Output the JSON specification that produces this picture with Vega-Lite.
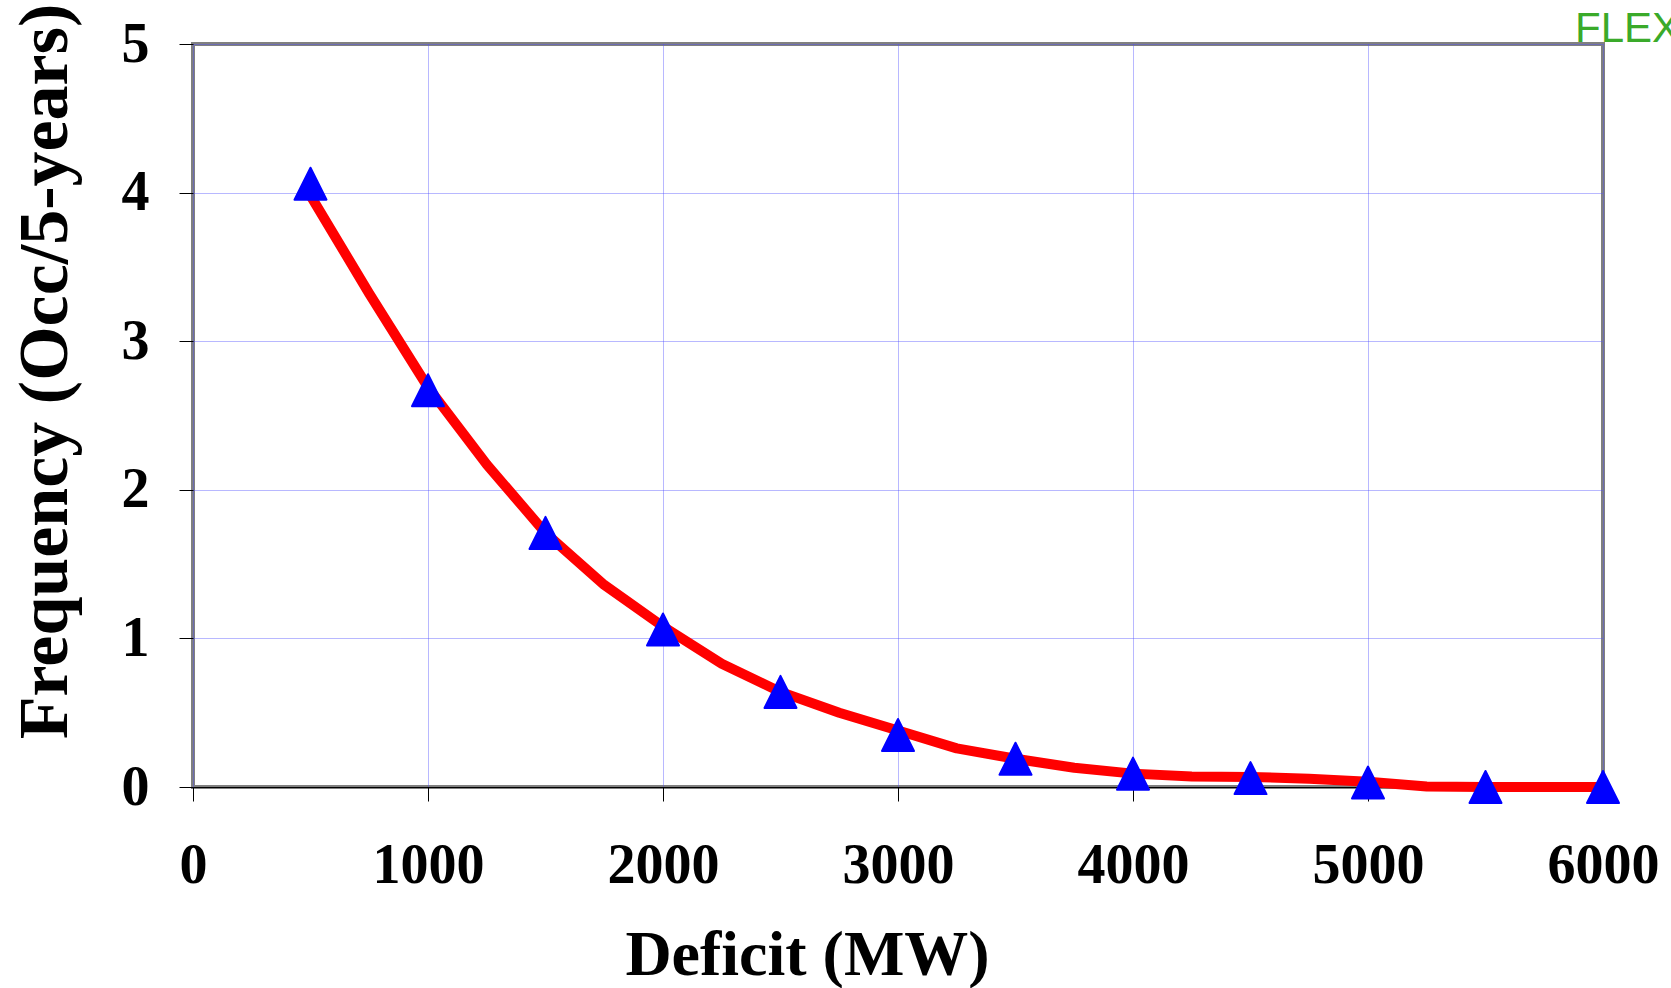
{
  "$schema": "https://vega.github.io/schema/vega-lite/v6.json",
  "width": 1410,
  "height": 743,
  "autosize": {"type": "none"},
  "padding": {"left": 193, "top": 44, "right": 68, "bottom": 201},
  "background": "white",
  "config": {
    "view": {"stroke": "#808080", "strokeWidth": 4},
    "axis": {
      "labelFont": "Liberation Serif",
      "titleFont": "Liberation Serif",
      "labelFontWeight": "bold",
      "titleFontWeight": "bold",
      "labelColor": "black",
      "titleColor": "black",
      "labelFontSize": 56,
      "tickColor": "black",
      "tickWidth": 1,
      "tickSize": 14,
      "gridColor": "#4d4dff",
      "gridWidth": 1,
      "gridDash": [1, 1],
      "gridOpacity": 0.8,
      "labelOverlap": false,
      "labelBound": false,
      "labelFlush": false
    }
  },
  "datasets": {
    "curve": [
      {"deficit": 500, "freq": 3.98},
      {"deficit": 750, "freq": 3.32},
      {"deficit": 1000, "freq": 2.69},
      {"deficit": 1250, "freq": 2.17},
      {"deficit": 1500, "freq": 1.71},
      {"deficit": 1750, "freq": 1.36},
      {"deficit": 2000, "freq": 1.08},
      {"deficit": 2250, "freq": 0.83},
      {"deficit": 2500, "freq": 0.64},
      {"deficit": 2750, "freq": 0.5},
      {"deficit": 3000, "freq": 0.38},
      {"deficit": 3250, "freq": 0.26},
      {"deficit": 3500, "freq": 0.19},
      {"deficit": 3750, "freq": 0.13},
      {"deficit": 4000, "freq": 0.09},
      {"deficit": 4250, "freq": 0.07},
      {"deficit": 4500, "freq": 0.068},
      {"deficit": 4750, "freq": 0.055},
      {"deficit": 5000, "freq": 0.035},
      {"deficit": 5250, "freq": 0.003},
      {"deficit": 5500, "freq": 0.0},
      {"deficit": 5750, "freq": 0.0},
      {"deficit": 6000, "freq": 0.0}
    ],
    "points": [
      {"deficit": 500, "freq": 4.06},
      {"deficit": 1000, "freq": 2.67},
      {"deficit": 1500, "freq": 1.71},
      {"deficit": 2000, "freq": 1.06},
      {"deficit": 2500, "freq": 0.64},
      {"deficit": 3000, "freq": 0.35},
      {"deficit": 3500, "freq": 0.19},
      {"deficit": 4000, "freq": 0.09},
      {"deficit": 4500, "freq": 0.06},
      {"deficit": 5000, "freq": 0.03},
      {"deficit": 5500, "freq": 0.0},
      {"deficit": 6000, "freq": 0.0}
    ],
    "logo": [
      {"brand": "FLEX"}
    ]
  },
  "layer": [
    {
      "data": {"name": "curve"},
      "mark": {"type": "line", "color": "#ff0000", "strokeWidth": 10, "strokeCap": "round", "strokeJoin": "round", "clip": false},
      "encoding": {
        "x": {
          "field": "deficit",
          "type": "quantitative",
          "scale": {"domain": [0, 6000], "nice": false, "zero": true},
          "axis": {
            "title": "Deficit (MW)",
            "titleFontSize": 64,
            "values": [0, 1000, 2000, 3000, 4000, 5000, 6000],
            "format": "d",
            "domain": true,
            "domainColor": "black",
            "domainWidth": 1,
            "labelBaseline": "alphabetic",
            "labelPadding": 81,
            "titleX": 614,
            "titleY": 187,
            "titleAlign": "center",
            "titleBaseline": "alphabetic"
          }
        },
        "y": {
          "field": "freq",
          "type": "quantitative",
          "scale": {"domain": [0, 5], "nice": false},
          "axis": {
            "title": "Frequency (Occ/5-years)",
            "titleFontSize": 70,
            "values": [0, 1, 2, 3, 4, 5],
            "format": "d",
            "domain": false,
            "labelPadding": 30,
            "labelBaseline": "middle",
            "titleX": -127,
            "titleY": 327,
            "titleAngle": -90,
            "titleAlign": "center",
            "titleBaseline": "alphabetic"
          }
        }
      }
    },
    {
      "data": {"name": "points"},
      "mark": {
        "type": "point",
        "shape": "M0,-1L1,1L-1,1Z",
        "size": 1024,
        "filled": true,
        "fill": "#0000ff",
        "stroke": "#0000ff",
        "strokeWidth": 2,
        "strokeJoin": "round",
        "opacity": 1,
        "clip": false
      },
      "encoding": {
        "x": {"field": "deficit", "type": "quantitative"},
        "y": {"field": "freq", "type": "quantitative"}
      }
    },
    {
      "data": {"name": "logo"},
      "mark": {
        "type": "text",
        "align": "left",
        "baseline": "alphabetic",
        "dx": -28,
        "dy": -2,
        "font": "Liberation Sans",
        "fontSize": 42,
        "fill": "#3aaa2a"
      },
      "encoding": {
        "x": {"datum": 6000, "type": "quantitative"},
        "y": {"datum": 5, "type": "quantitative"},
        "text": {"field": "brand", "type": "nominal"}
      }
    }
  ]
}
